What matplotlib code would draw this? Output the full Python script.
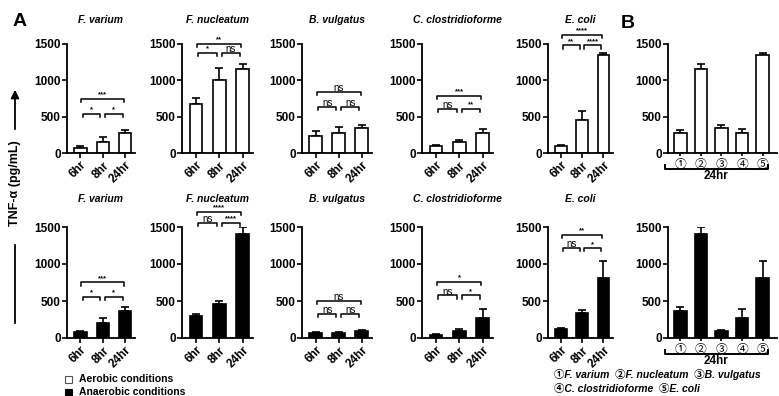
import numpy as np
import matplotlib
matplotlib.use('Agg')
import matplotlib.pyplot as plt
from matplotlib.patches import Rectangle

plt.rcParams['font.family'] = ['Liberation Sans', 'Noto Sans CJK JP']
plt.rcParams['font.weight'] = 'bold'

species = ['F. varium', 'F. nucleatum', 'B. vulgatus', 'C. clostridioforme', 'E. coli']
times = ['6hr', '8hr', '24hr']
circled = ['①', '②', '③', '④', '⑤']

# TNF-a means and upper SEM, aerobic (top row)
aer_mean = [[68, 158, 271], [678, 1008, 1161], [230, 271, 339], [90, 158, 275], [90, 456, 1347]]
aer_err = [[22, 59, 45], [81, 167, 59], [68, 81, 45], [14, 18, 55], [23, 122, 36]]
# anaerobic (bottom row)
ana_mean = [[76, 206, 367], [299, 453, 1405], [72, 72, 90], [45, 100, 276], [118, 344, 806]]
ana_err = [[18, 63, 54], [32, 50, 95], [14, 10, 14], [9, 22, 114], [13, 41, 241]]

# significance: (from, to, height, label)
aer_sig = [
    [(0, 1, 542, '*'), (1, 2, 542, '*'), (0, 2, 745, '***')],
    [(0, 1, 1378, '*'), (1, 2, 1378, 'ns'), (0, 2, 1500, '**')],
    [(0, 1, 633, 'ns'), (1, 2, 633, 'ns'), (0, 2, 840, 'ns')],
    [(0, 1, 610, 'ns'), (1, 2, 610, '**'), (0, 2, 786, '***')],
    [(0, 1, 1482, '**'), (1, 2, 1482, '****'), (0, 2, 1627, '****')],
]
ana_sig = [
    [(0, 1, 557, '*'), (1, 2, 557, '*'), (0, 2, 752, '***')],
    [(0, 1, 1554, 'ns'), (1, 2, 1554, '****'), (0, 2, 1704, '****')],
    [(0, 1, 326, 'ns'), (1, 2, 326, 'ns'), (0, 2, 498, 'ns')],
    [(0, 1, 575, 'ns'), (1, 2, 575, '*'), (0, 2, 757, '*')],
    [(0, 1, 1214, 'ns'), (1, 2, 1214, '*'), (0, 2, 1395, '**')],
]

W, H = 779, 396
fig = plt.figure(figsize=(W / 100, H / 100), dpi=100)

# panel left edges / widths in pixels
lefts = [67, 182, 302, 422, 548]
widths = [68, 71, 70, 71, 65]
b_left, b_width = 668, 109
rows = [(153, 109), (338, 111)]  # (y of zero, height) in pixels


def style_axis(ax):
    for s in ['top', 'right']:
        ax.spines[s].set_visible(False)
    for s in ['left', 'bottom']:
        ax.spines[s].set_linewidth(1.3)
    ax.set_ylim(0, 1500)
    ax.set_yticks([0, 500, 1000, 1500])
    ax.tick_params(width=1.2, length=3.5, labelsize=8.5, pad=1)
    for t in ax.get_yticklabels():
        t.set_fontweight('bold')


def bracket(ax, x1, x2, y, label):
    if x2 - x1 > 1:
        a, b = x1 + 0.05, x2 - 0.05
    else:
        a, b = x1 + 0.1, x2 - 0.1
    d = 45
    ax.plot([a, a, b, b], [y - d, y, y, y - d], color='k', lw=1.1, clip_on=False)
    if label == 'ns':
        ax.text((a + b) / 2, y - 15, label, ha='center', va='bottom', fontsize=7,
                fontweight='normal')
    else:
        ax.text((a + b) / 2, y + 5, label, ha='center', va='bottom', fontsize=5.5)


for r, (means, errs, sigs, color) in enumerate([
        (aer_mean, aer_err, aer_sig, 'white'),
        (ana_mean, ana_err, ana_sig, 'black')]):
    y0, h = rows[r]
    for i in range(5):
        ax = fig.add_axes([lefts[i] / W, 1 - y0 / H, widths[i] / W, h / H])
        x = np.arange(3)
        ax.bar(x, means[i], width=0.55, color=color, edgecolor='black', linewidth=1.2, zorder=2)
        ax.errorbar(x, means[i], yerr=[np.zeros(3), errs[i]], fmt='none', ecolor='black',
                    elinewidth=1.2, capsize=3, capthick=1.2, zorder=1)
        ax.set_xlim(-0.6, 2.45)
        style_axis(ax)
        ax.set_xticks(x)
        ax.set_xticklabels(times, rotation=45, ha='right', rotation_mode='anchor',
                           fontsize=8.5, fontweight='bold')
        ax.text(0.5, 1.22 if r == 0 else 1.25, species[i], transform=ax.transAxes,
                ha='center', va='center', fontsize=7.5, fontstyle='italic', fontweight='bold')
        for s in sigs[i]:
            bracket(ax, *s)

    # panel B
    axb = fig.add_axes([b_left / W, 1 - y0 / H, b_width / W, h / H])
    xb = np.arange(5)
    bvals = [m[2] for m in means]
    berrs = [e[2] for e in errs]
    axb.bar(xb, bvals, width=0.62, color=color, edgecolor='black', linewidth=1.2, zorder=2)
    axb.errorbar(xb, bvals, yerr=[np.zeros(5), berrs], fmt='none', ecolor='black',
                 elinewidth=1.2, capsize=3, capthick=1.2, zorder=1)
    axb.set_xlim(-0.6, 4.7)
    style_axis(axb)
    axb.set_xticks(xb)
    axb.set_xticklabels(circled, fontsize=8.5, fontweight='normal')
    axb.tick_params(axis='x', length=2.5, pad=1.5)
    # 24hr bracket
    by = 1 - (y0 + 16) / H
    fig.add_artist(plt.Line2D([665 / W, 665 / W, 768 / W, 768 / W],
                              [by + 4 / H, by, by, by + 4 / H], color='k', lw=1.4))
    fig.text(716 / W, by - 1 / H, '24hr', ha='center', va='top', fontsize=8.5, fontweight='bold')

# panel letters
fig.text(20 / W, 1 - 22 / H, 'A', ha='center', va='center', fontsize=14, fontweight='bold')
fig.text(628 / W, 1 - 23 / H, 'B', ha='center', va='center', fontsize=14, fontweight='bold')

# y label with arrow
fig.text(15 / W, 1 - 183 / H, 'TNF-α (pg/mL)', rotation=90, ha='center', va='center',
         fontsize=9, fontweight='bold')
fig.add_artist(plt.Line2D([15 / W, 15 / W], [1 - 245 / H, 1 - 323 / H], color='k', lw=1.3))
fig.add_artist(matplotlib.patches.FancyArrowPatch((15 / W, 1 - 132 / H), (15 / W, 1 - 87 / H),
                                                  transform=fig.transFigure, arrowstyle='-|>',
                                                  mutation_scale=12, color='k', lw=1.3))

# condition legend
fig.add_artist(Rectangle((65 / W, 1 - 383 / H), 7 / W, 7 / H, facecolor='white',
                         edgecolor='#555555', lw=0.8, transform=fig.transFigure))
fig.add_artist(Rectangle((65 / W, 1 - 396 / H), 7 / W, 7 / H, facecolor='black',
                         edgecolor='black', lw=0.8, transform=fig.transFigure))
fig.text(79 / W, 1 - 379 / H, 'Aerobic conditions', ha='left', va='center', fontsize=7.5,
         fontweight='bold')
fig.text(79 / W, 1 - 392 / H, 'Anaerobic conditions', ha='left', va='center', fontsize=7.5,
         fontweight='bold')

# species key for panel B
fig.text(554 / W, 1 - 375 / H, '①F. varium  ②F. nucleatum  ③B. vulgatus', ha='left',
         va='center', fontsize=7.5, fontstyle='italic', fontweight='bold')
fig.text(554 / W, 1 - 389 / H, '④C. clostridioforme  ⑤E. coli', ha='left',
         va='center', fontsize=7.5, fontstyle='italic', fontweight='bold')

fig.savefig('out.png', dpi=100)
